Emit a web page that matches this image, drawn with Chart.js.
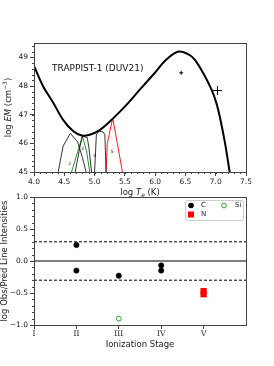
<!DOCTYPE html>
<html>
<head>
<meta charset="utf-8">
<script src="https://cdn.jsdelivr.net/npm/chart.js@4.4.0/dist/chart.umd.min.js"></script>
<style>
  body { margin: 0; background: #fff; width: 274px; height: 366px; overflow: hidden; position: relative; }
  canvas { position: absolute; left: 0; }
  #em-chart { top: 0; }
  #ratio-chart { top: 190px; }
</style>
</head>
<body>
<canvas id="em-chart" width="274" height="200"></canvas>
<canvas id="ratio-chart" width="274" height="176"></canvas>
<script>
// ---- top panel: emission measure distribution ----
const emLogT  = [4.00, 4.15, 4.32, 4.48, 4.65, 4.79, 4.92, 5.09, 5.31, 5.53, 5.75, 5.97, 6.19, 6.39, 6.57, 6.66, 6.79, 6.93, 7.01, 7.07, 7.15, 7.23, 7.30];
const emLogEM = [48.70, 47.99, 47.41, 46.82, 46.42, 46.27, 46.30, 46.47, 46.88, 47.35, 47.88, 48.40, 48.93, 49.20, 49.08, 48.90, 48.46, 47.88, 47.41, 46.90, 46.05, 45.00, 44.00];

// contribution functions (log T, log EM)
const ciiT = [4.40, 4.48, 4.60, 4.72, 4.80, 4.86];
const ciiEM = [45.0, 45.9, 46.35, 46.05, 45.5, 45.0];
const siiiiT = [4.62, 4.72, 4.80, 4.87, 4.92];
const siiiiEM = [45.0, 45.7, 46.25, 45.7, 45.0];
const ciiiT = [4.68, 4.76, 4.80, 4.88, 4.91, 4.95];
const ciiiEM = [45.0, 45.9, 46.25, 46.2, 45.8, 45.0];
const civT = [5.00, 5.03, 5.07, 5.14, 5.17, 5.19];
const civEM = [45.0, 46.3, 46.42, 46.4, 46.3, 45.0];
const nvT = [5.19, 5.21, 5.30, 5.38, 5.46];
const nvEM = [45.0, 46.0, 46.88, 45.95, 45.0];

const cfLabels = ['2', '3', '4', '5'];
const cfLabelT = [4.59, 4.80, 5.00, 5.29];
const cfLabelEM = [45.3, 45.8, 45.55, 45.7];

const xrayT = [6.43, 7.03];
const xrayEM = [48.46, 47.84];
const xraySize = [2, 4.5];

// ---- bottom panel: obs/pred ratios ----
const stageLabels = ['I', 'II', 'III', 'IV', 'V'];
const cStage = [2, 2, 3, 4, 4];
const cRatio = [0.25, -0.15, -0.23, -0.07, -0.15];
const nStage = [5, 5];
const nRatio = [-0.47, -0.52];
const siStage = [3];
const siRatio = [-0.9];
const refLevels = [0.3, 0, -0.3];

Chart.defaults.font.family = 'DejaVu Sans';
Chart.defaults.color = '#222';

const pts = (xs, ys) => xs.map((v, i) => ({ x: v, y: ys[i] }));

function curve(xs, ys, color, width) {
  return { data: pts(xs, ys), showLine: true, borderColor: color, borderWidth: width, pointRadius: 0, tension: 0, order: 2 };
}

function drawRich(ctx, parts, x, y, rotate, size) {
  ctx.save();
  ctx.translate(x, y);
  if (rotate) ctx.rotate(-Math.PI / 2);
  const fontFor = p => `${p.italic ? 'italic ' : ''}${p.shift ? size * 0.7 : size}px "DejaVu Sans"`;
  let w = 0;
  parts.forEach(p => { ctx.font = fontFor(p); w += ctx.measureText(p.t).width; });
  let cx = -w / 2;
  ctx.textBaseline = 'middle';
  ctx.textAlign = 'left';
  ctx.fillStyle = '#222';
  parts.forEach(p => {
    ctx.font = fontFor(p);
    const dy = p.shift === 'sup' ? -size * 0.38 : p.shift === 'sub' ? size * 0.3 : 0;
    ctx.fillText(p.t, cx, dy);
    cx += ctx.measureText(p.t).width;
  });
  ctx.restore();
}

// frame, minor ticks and axis titles
function makeFrame(cfg) {
  return {
    id: 'frame',
    afterDraw(chart) {
      const { ctx, chartArea: a, scales } = chart;
      ctx.save();
      ctx.strokeStyle = '#444';
      ctx.lineWidth = 1;
      ctx.strokeRect(Math.round(a.left) + 0.5, Math.round(a.top) + 0.5, Math.round(a.right - a.left), Math.round(a.bottom - a.top));
      ctx.beginPath();
      if (cfg.minorX) {
        const s = scales.x;
        for (let v = s.min; v <= s.max + 1e-9; v += cfg.minorX) {
          const px = Math.round(s.getPixelForValue(v)) + 0.5;
          ctx.moveTo(px, a.bottom); ctx.lineTo(px, a.bottom + 2);
        }
      }
      if (cfg.minorY) {
        const s = scales.y;
        for (let v = s.min; v <= s.max + 1e-9; v += cfg.minorY) {
          const py = Math.round(s.getPixelForValue(v)) + 0.5;
          ctx.moveTo(a.left, py); ctx.lineTo(a.left - 2, py);
        }
      }
      ctx.stroke();
      ctx.restore();
      drawRich(ctx, cfg.xTitle, (a.left + a.right) / 2, cfg.xTitleY, false, 8.5);
      drawRich(ctx, cfg.yTitle, cfg.yTitleX, (a.top + a.bottom) / 2, true, 8.5);
    }
  };
}

const emLabels = {
  id: 'emLabels',
  afterDatasetsDraw(chart) {
    const { ctx, chartArea: a, scales } = chart;
    ctx.save();
    ctx.fillStyle = '#111';
    ctx.font = '9px "DejaVu Sans"';
    ctx.textBaseline = 'middle';
    ctx.fillText('TRAPPIST-1 (DUV21)', a.left + 18, a.top + 26);
    ctx.font = '4.5px "DejaVu Sans"';
    ctx.textAlign = 'center';
    cfLabels.forEach((t, i) => {
      ctx.fillText(t, scales.x.getPixelForValue(cfLabelT[i]), scales.y.getPixelForValue(cfLabelEM[i]));
    });
    ctx.restore();
  }
};

const ratioLegend = {
  id: 'ratioLegend',
  afterDraw(chart) {
    const { ctx, chartArea: a } = chart;
    const w = 58, h = 20;
    const x0 = a.right - 3 - w, y0 = a.top + 3;
    ctx.save();
    ctx.strokeStyle = '#ccc';
    ctx.lineWidth = 1;
    ctx.fillStyle = 'rgba(255,255,255,0.8)';
    ctx.beginPath();
    ctx.roundRect(x0 + 0.5, y0 + 0.5, w, h, 2);
    ctx.fill();
    ctx.stroke();
    ctx.font = '7px "DejaVu Sans"';
    ctx.textBaseline = 'middle';
    ctx.fillStyle = '#222';
    const r1 = y0 + 5.5, r2 = y0 + 14.5;
    ctx.fillText('C', x0 + 16, r1);
    ctx.fillText('N', x0 + 16, r2);
    ctx.fillText('Si', x0 + 50, r1);
    ctx.fillStyle = '#000';
    ctx.beginPath(); ctx.arc(x0 + 6, r1, 2.8, 0, Math.PI * 2); ctx.fill();
    ctx.fillStyle = '#f00';
    ctx.fillRect(x0 + 3, r2 - 3, 6, 6);
    ctx.strokeStyle = '#2ca02c';
    ctx.beginPath(); ctx.arc(x0 + 39, r1, 2.4, 0, Math.PI * 2); ctx.stroke();
    ctx.restore();
  }
};

const tickFont = { size: 7.5 };

new Chart(document.getElementById('em-chart'), {
  type: 'scatter',
  data: {
    datasets: [
      { data: pts(emLogT, emLogEM), showLine: true, borderColor: '#000', borderWidth: 2, pointRadius: 0, tension: 0.35, order: 1 },
      curve(ciiT, ciiEM, '#000', 0.8),
      curve(ciiiT, ciiiEM, '#000', 0.8),
      curve(siiiiT, siiiiEM, '#108a10', 0.9),
      curve(civT, civEM, '#000', 0.8),
      curve(nvT, nvEM, '#f00', 0.9),
      { data: pts(xrayT, xrayEM), pointStyle: 'cross', pointRadius: xraySize, borderColor: '#000', borderWidth: 1, backgroundColor: '#000', order: 0 }
    ]
  },
  options: {
    responsive: false,
    animation: false,
    devicePixelRatio: 1,
    layout: { padding: { top: 43, right: 28, left: 0, bottom: 0 } },
    plugins: { legend: { display: false }, tooltip: { enabled: false } },
    scales: {
      x: {
        type: 'linear', min: 4, max: 7.5,
        ticks: { stepSize: 0.5, font: tickFont, padding: 2, maxRotation: 0, autoSkip: false, callback: v => v.toFixed(1) },
        grid: { drawOnChartArea: false, tickLength: 4, color: '#444' },
        border: { color: '#444' },
        afterFit: s => { s.height = 28; }
      },
      y: {
        min: 45, max: 49.5,
        afterBuildTicks: s => { s.ticks = s.ticks.filter(t => Number.isInteger(t.value)); },
        ticks: { stepSize: 1, font: tickFont, padding: 2 },
        grid: { drawOnChartArea: false, tickLength: 4, color: '#444' },
        border: { color: '#444' },
        afterFit: s => { s.width = 34; }
      }
    }
  },
  plugins: [makeFrame({
    minorX: 0.1, minorY: 0.2,
    xTitle: [{ t: 'log ' }, { t: 'T', italic: true }, { t: 'e', italic: true, shift: 'sub' }, { t: ' (K)' }],
    xTitleY: 193,
    yTitle: [{ t: 'log ' }, { t: 'EM', italic: true }, { t: ' (cm' }, { t: '\u22123', shift: 'sup' }, { t: ')' }],
    yTitleX: 9
  }), emLabels]
});

new Chart(document.getElementById('ratio-chart'), {
  type: 'scatter',
  data: {
    datasets: [
      ...refLevels.map(v => ({
        data: [{ x: 1, y: v }, { x: 6, y: v }], showLine: true, borderColor: '#000', borderWidth: v === 0 ? 1.2 : 1,
        borderDash: v === 0 ? [] : [3, 2], pointRadius: 0, order: 2
      })),
      { label: 'C', data: pts(cStage, cRatio), pointRadius: 2.7, backgroundColor: '#000', borderColor: '#000', borderWidth: 0.5, order: 0 },
      { label: 'N', data: pts(nStage, nRatio), pointStyle: 'rect', pointRadius: 4.4, backgroundColor: '#f00', borderColor: '#f00', borderWidth: 0, order: 0 },
      { label: 'Si', data: pts(siStage, siRatio), pointRadius: 2.4, backgroundColor: 'rgba(0,0,0,0)', borderColor: '#2ca02c', borderWidth: 1, order: 0 }
    ]
  },
  options: {
    responsive: false,
    animation: false,
    devicePixelRatio: 1,
    layout: { padding: { top: 7, right: 28, left: 0, bottom: 0 } },
    plugins: { legend: { display: false }, tooltip: { enabled: false } },
    scales: {
      x: {
        type: 'linear', min: 1, max: 6,
        afterBuildTicks: s => { s.ticks = s.ticks.filter(t => t.value <= stageLabels.length); },
        ticks: { stepSize: 1, font: { family: 'DejaVu Serif', size: 7.5 }, padding: 1, maxRotation: 0, autoSkip: false, callback: v => stageLabels[v - 1] },
        grid: { drawOnChartArea: false, tickLength: 4, color: '#444' },
        border: { color: '#444' },
        afterFit: s => { s.height = 41; }
      },
      y: {
        min: -1, max: 1,
        ticks: { stepSize: 0.5, font: tickFont, padding: 2, callback: v => v.toFixed(1).replace('-', '\u2212') },
        grid: { drawOnChartArea: false, tickLength: 4, color: '#444' },
        border: { color: '#444' },
        afterFit: s => { s.width = 34; }
      }
    }
  },
  plugins: [makeFrame({
    minorY: 0.1,
    xTitle: [{ t: 'Ionization Stage' }],
    xTitleY: 155,
    yTitle: [{ t: 'log Obs/Pred Line Intensities' }],
    yTitleX: 5
  }), ratioLegend]
});
</script>
</body>
</html>
